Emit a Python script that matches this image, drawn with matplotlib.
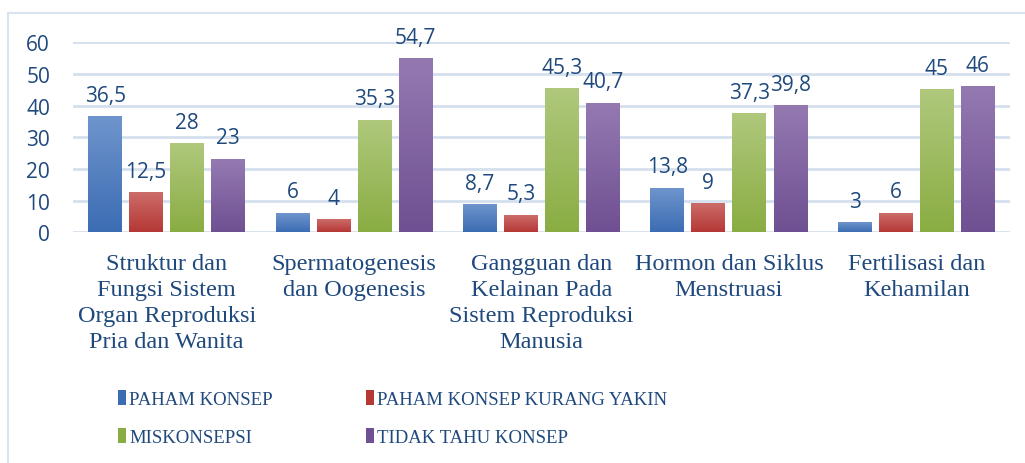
import matplotlib
matplotlib.use("Agg")
import matplotlib.pyplot as plt
import numpy as np
from matplotlib.colors import LinearSegmentedColormap
from matplotlib.patches import Rectangle

# data
categories = [
    "Struktur dan\nFungsi Sistem\nOrgan Reproduksi\nPria dan Wanita",
    "Spermatogenesis\ndan Oogenesis",
    "Gangguan dan\nKelainan Pada\nSistem Reproduksi\nManusia",
    "Hormon dan Siklus\nMenstruasi",
    "Fertilisasi dan\nKehamilan",
]
series = ["PAHAM KONSEP", "PAHAM KONSEP KURANG YAKIN",
          "MISKONSEPSI", "TIDAK TAHU KONSEP"]
paham = [36.5, 6, 8.7, 13.8, 3]
kurang_yakin = [12.5, 4, 5.3, 9, 6]
miskonsepsi = [28, 35.3, 45.3, 37.3, 45]
tidak_tahu = [23, 54.7, 40.7, 39.8, 46]
yticks = [0, 10, 20, 30, 40, 50, 60]

# (top, bottom) of each bar gradient
COLORS = [("#6E94CC", "#3C6DB3"), ("#CC6C6A", "#B53835"),
          ("#AFC87C", "#8AAD43"), ("#9479B1", "#6F5092")]
TEXT = "#1F497D"
GRID = "#D5DFEE"

fig = plt.figure(figsize=(10.25, 4.64), dpi=100)
ax = fig.add_axes([73 / 1025, 1 - 233.3 / 464, 937 / 1025, 190 / 464])

x = np.arange(len(categories))
step, width = 0.219, 0.181
handles = []
for i, vals in enumerate([paham, kurang_yakin, miskonsepsi, tidak_tahu]):
    top, bot = COLORS[i]
    bars = ax.bar(x + (i - 1.5) * step, vals, width, color=bot, zorder=3,
                  label=series[i])
    handles.append(bars)
    cmap = LinearSegmentedColormap.from_list(f"g{i}", [bot, top])
    grad = np.linspace(0, 1, 64).reshape(-1, 1)
    for b in bars:
        bx, bw, bh = b.get_x(), b.get_width(), b.get_height()
        ax.imshow(grad, cmap=cmap, origin="lower", aspect="auto", zorder=4,
                  extent=[bx, bx + bw, 0, bh], interpolation="bicubic")
    for b, v in zip(bars, vals):
        ax.annotate(f"{v:g}".replace(".", ","),
                    (b.get_x() + b.get_width() / 2, v),
                    xytext=(0, 8), textcoords="offset points",
                    ha="center", va="bottom", color=TEXT,
                    fontsize=15, family="Open Sans", zorder=5)

ax.set_xlim(-0.5, len(categories) - 0.5)
ax.set_ylim(0, 60)
ax.set_yticks(yticks)
ax.set_yticklabels([str(t) for t in yticks], family="Open Sans",
                   fontsize=15, color=TEXT)
ax.set_xticks(x)
ax.set_xticklabels(categories, family="Liberation Serif", fontsize=17.5,
                   color=TEXT, linespacing=1.3)
ax.tick_params(length=0)
ax.tick_params(axis="y", pad=16.5)
ax.tick_params(axis="x", pad=15)
ax.grid(axis="y", color=GRID, lw=2, zorder=0)
for s in ax.spines.values():
    s.set_visible(False)

# outer chart border
fig.patches.append(Rectangle((8 / 1025, -0.2), 1.1, 1.2 - 14 / 464,
                             transform=fig.transFigure, fill=False,
                             edgecolor="#D9E3F1", lw=1.5))

order = [0, 2, 1, 3]
leg = fig.legend([handles[k] for k in order], [series[k] for k in order],
                 ncol=2, loc="upper left", bbox_to_anchor=(101 / 1025, 1 - 374 / 464),
                 frameon=False, handlelength=0.45, handleheight=0.85,
                 handletextpad=0.15, columnspacing=4.95, labelspacing=1.1,
                 prop={"family": "Liberation Serif", "size": 13.5})
for t in leg.get_texts():
    t.set_color(TEXT)

fig.savefig("out.png", dpi=100)
